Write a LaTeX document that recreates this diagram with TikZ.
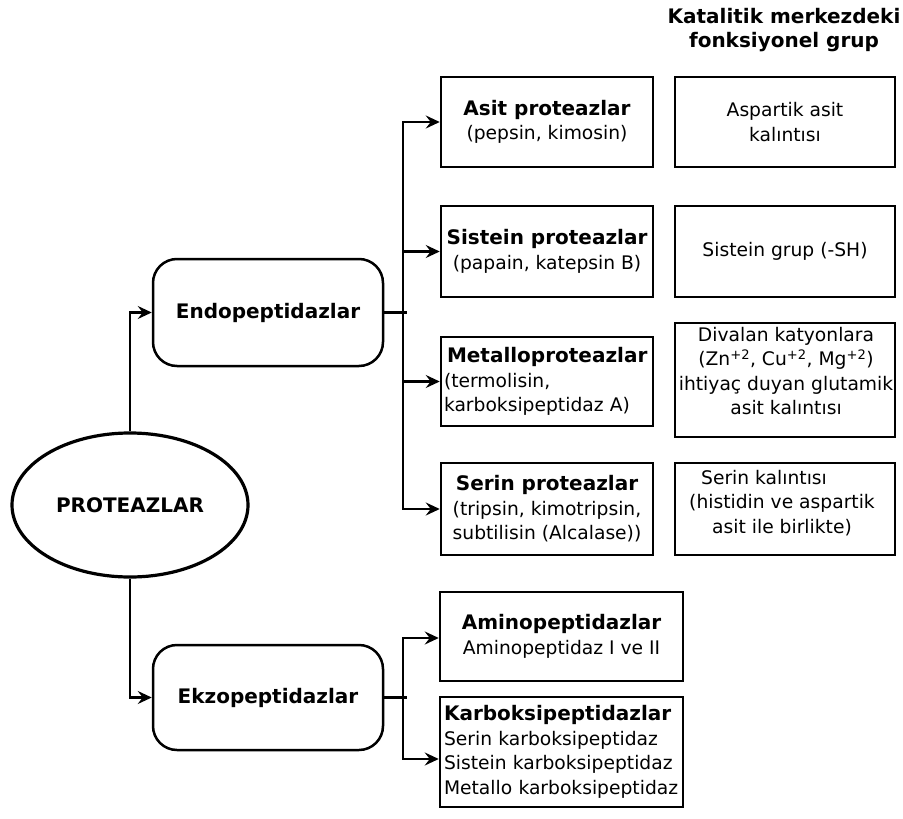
\documentclass[tikz,border=0pt]{standalone}
\usepackage{fontspec}
\setmainfont{DejaVu Sans}
\usetikzlibrary{arrows.meta,shapes.geometric}
\newcommand\bt[1]{{\fontsize{20}{24.5}\selectfont\bfseries #1}}
\begin{document}
\begin{tikzpicture}[x=1pt,y=-1pt,
  every node/.style={font=\fontsize{18.7}{24.5}\selectfont, inner sep=0pt},
  boxst/.style={draw, line width=2.5pt, rectangle, align=center},
  roundst/.style={draw, line width=2.5pt, rectangle, rounded corners=24pt, minimum width=230pt, align=center},
  conn/.style={line width=2.5pt, -{Stealth[length=14pt,width=13pt,inset=5pt]}},
  plain/.style={line width=2.5pt}]
\useasboundingbox (0,0) rectangle (903,819);
% header
\node[align=center] (hdr) at (784,30) {\bt{Katalitik merkezdeki}\\\bt{fonksiyonel grup}};
% main nodes
\node[draw, ellipse, line width=3.2pt, minimum width=236pt, minimum height=144pt] (prot) at (130,505) {\bt{PROTEAZLAR}};
\node[roundst, minimum height=107pt] (endo) at (268,312.5) {\bt{Endopeptidazlar}};
\node[roundst, minimum height=105pt] (ekzo) at (268,697.5) {\bt{Ekzopeptidazlar}};
% endopeptidase column
\node[boxst, minimum width=212pt, minimum height=90pt] (asit) at (547,122) {\bt{Asit proteazlar}\\(pepsin, kimosin)};
\node[boxst, minimum width=212pt, minimum height=91pt] (sist) at (547,251.5) {\bt{Sistein proteazlar}\\(papain, katepsin B)};
\node[boxst, minimum width=212pt, minimum height=89pt, text width=206pt, inner xsep=3pt, align=left] (metal) at (547,381.5) {\mbox{\hspace*{3pt}\bt{Metalloproteazlar}}\\(termolisin,\\karboksipeptidaz A)};
\node[boxst, minimum width=212pt, minimum height=92pt] (serin) at (547,509) {\bt{Serin proteazlar}\\(tripsin, kimotripsin,\\subtilisin (Alcalase))};
% functional group column
\node[boxst, minimum width=220pt, minimum height=90pt] (asp) at (785,122) {Aspartik asit\\kalıntısı};
\node[boxst, minimum width=220pt, minimum height=91pt] (sgrup) at (785,251.5) {Sistein grup (-SH)};
\node[boxst, minimum width=220pt, minimum height=114pt] (dival) at (785,380) {};
\node[align=center] (divalt) at (786,371) {Divalan katyonlara\\(Zn\textsuperscript{+2}, Cu\textsuperscript{+2}, Mg\textsuperscript{+2})\\ihtiyaç duyan glutamik\\asit kalıntısı};
\node[boxst, minimum width=220pt, minimum height=92pt] (serk) at (785,509) {};
\node[align=center] (serkt) at (782,503) {\hspace*{-36pt}Serin kalıntısı\\(histidin ve aspartik\\asit ile birlikte)};
% exopeptidase column
\node[boxst, minimum width=243pt, minimum height=89pt] (amino) at (561.5,636.5) {\bt{Aminopeptidazlar}\\Aminopeptidaz I ve II};
\node[boxst, minimum width=243pt, minimum height=110pt, text width=235pt, inner xsep=4pt, align=left] (karbo) at (561.5,752) {\bt{Karboksipeptidazlar}\\Serin karboksipeptidaz\\Sistein karboksipeptidaz\\Metallo karboksipeptidaz};
% connectors
\draw[conn] (prot.north) |- (endo.west);
\draw[conn] (prot.south) |- (ekzo.west);
\coordinate (et) at (403,312.5);
\coordinate (ete) at (407,312.5);
\draw[plain] (endo.east) -- (ete);
\draw[conn] (et) |- (asit.west);
\draw[conn] (et) |- (sist.west);
\draw[conn] (et) |- (metal.west);
\draw[conn] (et) |- (serin.west);
\coordinate (xt) at (403,697.5);
\coordinate (xte) at (407,697.5);
\draw[plain] (ekzo.east) -- (xte);
\draw[conn] (xt) |- ([yshift=-1.5pt]amino.west);
\draw[conn] (xt) |- ([yshift=-7pt]karbo.west);
\end{tikzpicture}
\end{document}
